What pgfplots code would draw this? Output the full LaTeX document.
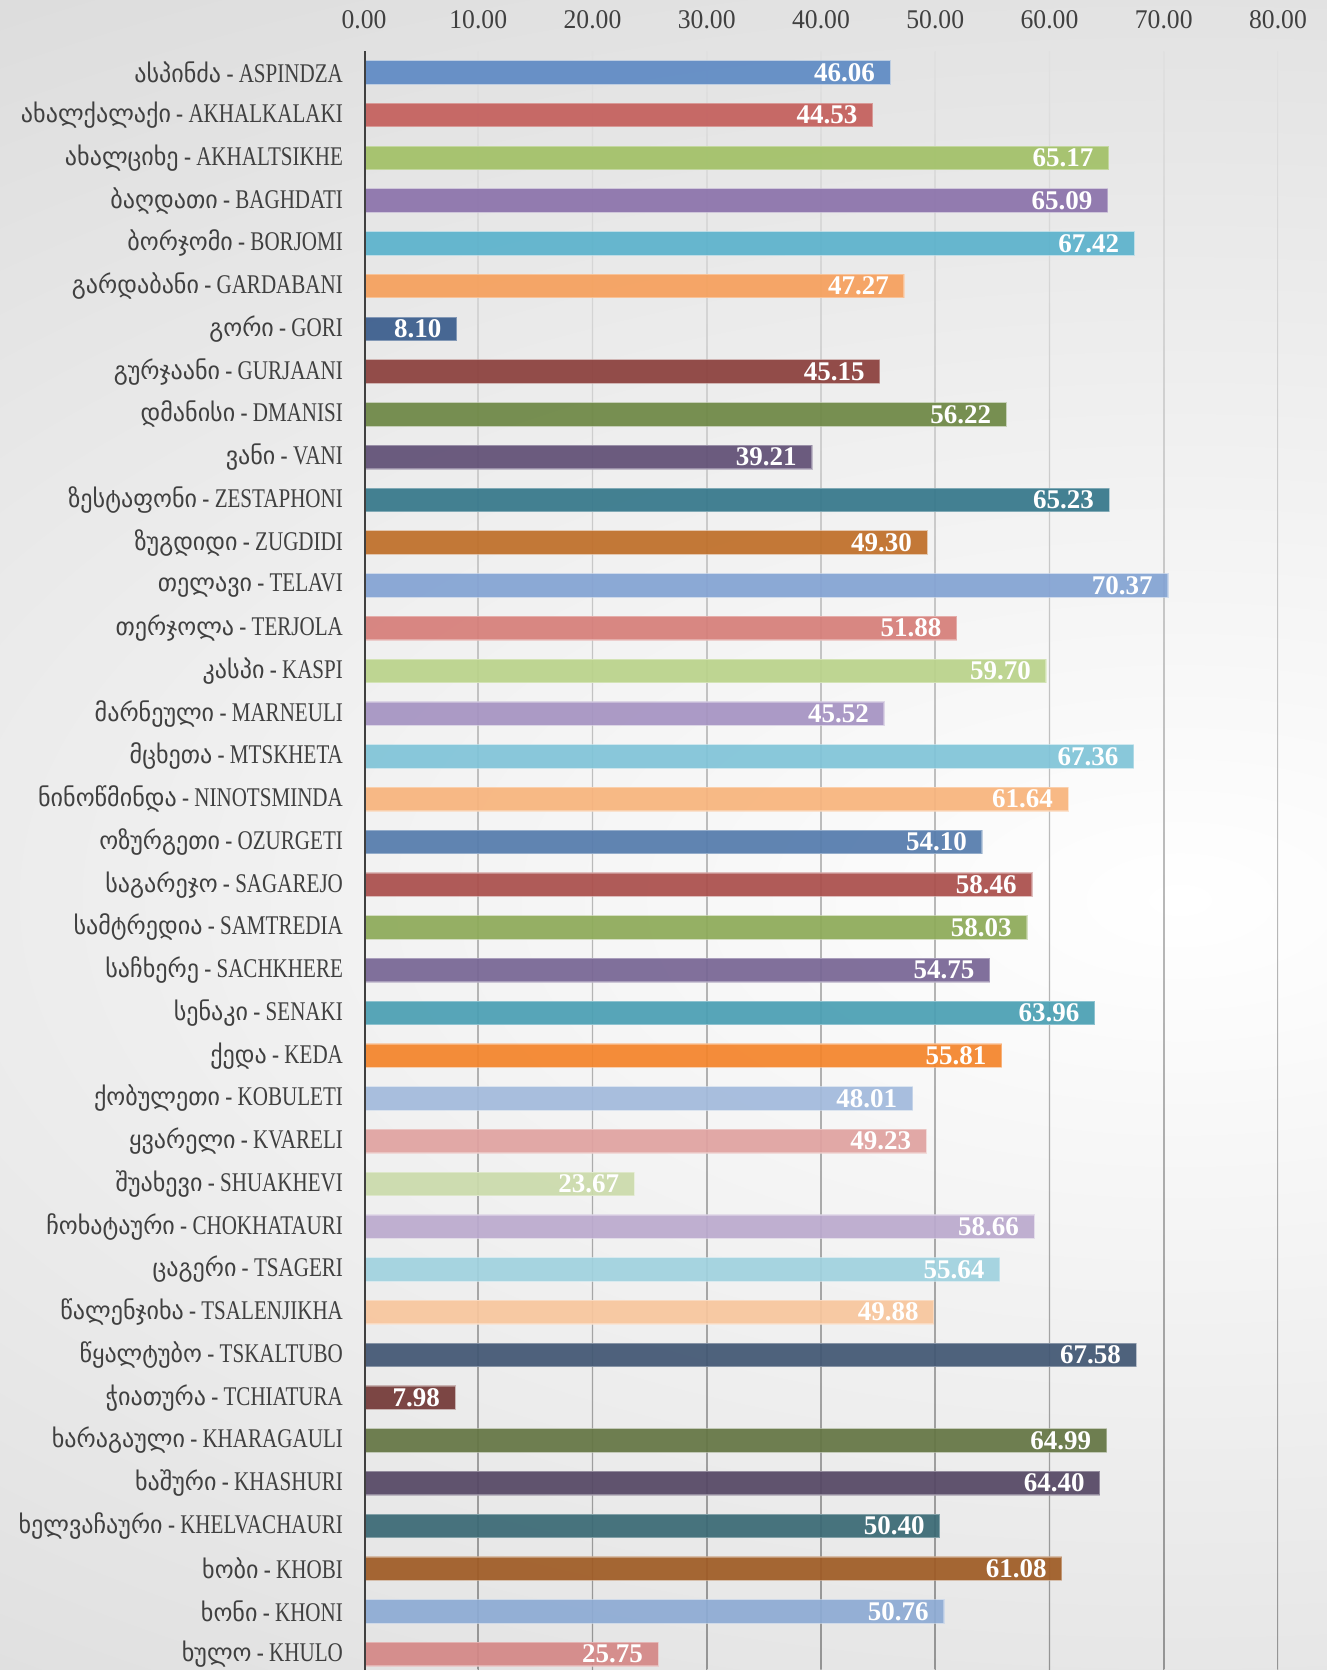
\documentclass[border=0pt]{standalone}
\usepackage{fontspec}
\setmainfont{Liberation Serif}[FakeStretch=0.78]
\newfontfamily\geo{DejaVu Sans}[FakeStretch=0.97, Scale=0.92]
\newfontfamily\numfont{Liberation Serif}[FakeStretch=0.95]
\newfontfamily\valfont{Liberation Serif}[FakeStretch=1.0]
\usepackage{pgfplots}
\pgfplotsset{compat=1.18}

\definecolor{lbl}{HTML}{404040}
\definecolor{c1}{HTML}{5E8AC4}
\definecolor{c2}{HTML}{C45F5C}
\definecolor{c3}{HTML}{A2C167}
\definecolor{c4}{HTML}{8B72AB}
\definecolor{c5}{HTML}{5BB2CC}
\definecolor{c6}{HTML}{F6A05C}
\definecolor{c7}{HTML}{3A5C8C}
\definecolor{c8}{HTML}{8B3F3C}
\definecolor{c9}{HTML}{6D8744}
\definecolor{c10}{HTML}{604F75}
\definecolor{c11}{HTML}{35778A}
\definecolor{c12}{HTML}{BF6E28}
\definecolor{c13}{HTML}{83A3D3}
\definecolor{c14}{HTML}{D67E79}
\definecolor{c15}{HTML}{BAD38A}
\definecolor{c16}{HTML}{A593C2}
\definecolor{c17}{HTML}{80C4D8}
\definecolor{c18}{HTML}{F8B47C}
\definecolor{c19}{HTML}{547BAC}
\definecolor{c20}{HTML}{AA4E4B}
\definecolor{c21}{HTML}{8DAA58}
\definecolor{c22}{HTML}{776594}
\definecolor{c23}{HTML}{4A9FB3}
\definecolor{c24}{HTML}{F4842A}
\definecolor{c25}{HTML}{A2BADC}
\definecolor{c26}{HTML}{E0A2A0}
\definecolor{c27}{HTML}{CBDBAB}
\definecolor{c28}{HTML}{BBAACE}
\definecolor{c29}{HTML}{A0D2DF}
\definecolor{c30}{HTML}{F8C69D}
\definecolor{c31}{HTML}{415673}
\definecolor{c32}{HTML}{733836}
\definecolor{c33}{HTML}{647543}
\definecolor{c34}{HTML}{554764}
\definecolor{c35}{HTML}{3A6974}
\definecolor{c36}{HTML}{9F5B24}
\definecolor{c37}{HTML}{8DABD4}
\definecolor{c38}{HTML}{D48786}

\newcommand\gl[2]{{\geo #1} - #2}

\begin{document}
\begin{tikzpicture}
\useasboundingbox (0,0) rectangle (663.5pt,835pt);
\begin{scope}
  \clip (0,0) rectangle (663.5pt,835pt);
  \shade[inner color=white, outer color=black!20] (590pt,385pt) ellipse [x radius=1600pt, y radius=800pt];
\end{scope}
\begin{axis}[
  at={(182pt,0pt)}, anchor=south west,
  scale only axis, width=457pt, height=809.5pt,
  xbar, bar width=0.55, bar shift=0pt,
  xmin=0, xmax=80, ymin=-0.5, ymax=37.37, y dir=reverse,
  axis line style={draw=none},
  major tick length=0pt,
  /pgf/number format/assume math mode=true,
  xtick={0,10,...,80}, xticklabel pos=upper,
  tick label style={font=\fontsize{13.5}{16}\selectfont, text=lbl},
  xticklabel style={/pgf/number format/.cd, fixed, fixed zerofill, precision=2, /tikz/.cd,
    anchor=base, yshift=11.25pt, font=\fontsize{13.5}{16}\numfont},
  ytick={0,...,37},
  yticklabel style={anchor=east, xshift=-7pt},
  yticklabels={
    \gl{ასპინძა}{ASPINDZA},
    \gl{ახალქალაქი}{AKHALKALAKI},
    \gl{ახალციხე}{AKHALTSIKHE},
    \gl{ბაღდათი}{BAGHDATI},
    \gl{ბორჯომი}{BORJOMI},
    \gl{გარდაბანი}{GARDABANI},
    \gl{გორი}{GORI},
    \gl{გურჯაანი}{GURJAANI},
    \gl{დმანისი}{DMANISI},
    \gl{ვანი}{VANI},
    \gl{ზესტაფონი}{ZESTAPHONI},
    \gl{ზუგდიდი}{ZUGDIDI},
    \gl{თელავი}{TELAVI},
    \gl{თერჯოლა}{TERJOLA},
    \gl{კასპი}{KASPI},
    \gl{მარნეული}{MARNEULI},
    \gl{მცხეთა}{MTSKHETA},
    \gl{ნინოწმინდა}{NINOTSMINDA},
    \gl{ოზურგეთი}{OZURGETI},
    \gl{საგარეჯო}{SAGAREJO},
    \gl{სამტრედია}{SAMTREDIA},
    \gl{საჩხერე}{SACHKHERE},
    \gl{სენაკი}{SENAKI},
    \gl{ქედა}{KEDA},
    \gl{ქობულეთი}{KOBULETI},
    \gl{ყვარელი}{KVARELI},
    \gl{შუახევი}{SHUAKHEVI},
    \gl{ჩოხატაური}{CHOKHATAURI},
    \gl{ცაგერი}{TSAGERI},
    \gl{წალენჯიხა}{TSALENJIKHA},
    \gl{წყალტუბო}{TSKALTUBO},
    \gl{ჭიათურა}{TCHIATURA},
    \gl{ხარაგაული}{KHARAGAULI},
    \gl{ხაშური}{KHASHURI},
    \gl{ხელვაჩაური}{KHELVACHAURI},
    \gl{ხობი}{KHOBI},
    \gl{ხონი}{KHONI},
    \gl{ხულო}{KHULO}},
  point meta=x,
  nodes near coords={\pgfmathprintnumber[fixed,fixed zerofill,precision=2]{\pgfplotspointmeta}},
  nodes near coords style={anchor=east, xshift=-4pt, text=white, text opacity=1,
    font=\fontsize{13.5}{16}\valfont\bfseries},
  every axis plot/.append style={fill opacity=0.92, draw opacity=0.7, line width=0.6pt},
]
\pgfplotsinvokeforeach{10,20,30,40,50,60,70,80}{
  \shade[top color=black!12, bottom color=black!42]
    ([xshift=-0.35pt]axis cs:#1,-0.5) rectangle ([xshift=0.35pt]axis cs:#1,37.37);
}
\addplot[fill=c1, draw=c1!50!white] coordinates {(46.06,0)};
\addplot[fill=c2, draw=c2!50!white] coordinates {(44.53,1)};
\addplot[fill=c3, draw=c3!50!white] coordinates {(65.17,2)};
\addplot[fill=c4, draw=c4!50!white] coordinates {(65.09,3)};
\addplot[fill=c5, draw=c5!50!white] coordinates {(67.42,4)};
\addplot[fill=c6, draw=c6!50!white] coordinates {(47.27,5)};
\addplot[fill=c7, draw=c7!50!white] coordinates {(8.10,6)};
\addplot[fill=c8, draw=c8!50!white] coordinates {(45.15,7)};
\addplot[fill=c9, draw=c9!50!white] coordinates {(56.22,8)};
\addplot[fill=c10, draw=c10!50!white] coordinates {(39.21,9)};
\addplot[fill=c11, draw=c11!50!white] coordinates {(65.23,10)};
\addplot[fill=c12, draw=c12!50!white] coordinates {(49.30,11)};
\addplot[fill=c13, draw=c13!50!white] coordinates {(70.37,12)};
\addplot[fill=c14, draw=c14!50!white] coordinates {(51.88,13)};
\addplot[fill=c15, draw=c15!50!white] coordinates {(59.70,14)};
\addplot[fill=c16, draw=c16!50!white] coordinates {(45.52,15)};
\addplot[fill=c17, draw=c17!50!white] coordinates {(67.36,16)};
\addplot[fill=c18, draw=c18!50!white] coordinates {(61.64,17)};
\addplot[fill=c19, draw=c19!50!white] coordinates {(54.10,18)};
\addplot[fill=c20, draw=c20!50!white] coordinates {(58.46,19)};
\addplot[fill=c21, draw=c21!50!white] coordinates {(58.03,20)};
\addplot[fill=c22, draw=c22!50!white] coordinates {(54.75,21)};
\addplot[fill=c23, draw=c23!50!white] coordinates {(63.96,22)};
\addplot[fill=c24, draw=c24!50!white] coordinates {(55.81,23)};
\addplot[fill=c25, draw=c25!50!white] coordinates {(48.01,24)};
\addplot[fill=c26, draw=c26!50!white] coordinates {(49.23,25)};
\addplot[fill=c27, draw=c27!50!white] coordinates {(23.67,26)};
\addplot[fill=c28, draw=c28!50!white] coordinates {(58.66,27)};
\addplot[fill=c29, draw=c29!50!white] coordinates {(55.64,28)};
\addplot[fill=c30, draw=c30!50!white] coordinates {(49.88,29)};
\addplot[fill=c31, draw=c31!50!white] coordinates {(67.58,30)};
\addplot[fill=c32, draw=c32!50!white] coordinates {(7.98,31)};
\addplot[fill=c33, draw=c33!50!white] coordinates {(64.99,32)};
\addplot[fill=c34, draw=c34!50!white] coordinates {(64.40,33)};
\addplot[fill=c35, draw=c35!50!white] coordinates {(50.40,34)};
\addplot[fill=c36, draw=c36!50!white] coordinates {(61.08,35)};
\addplot[fill=c37, draw=c37!50!white] coordinates {(50.76,36)};
\addplot[fill=c38, draw=c38!50!white] coordinates {(25.75,37)};
\draw[line width=1.75pt, draw=lbl] (axis cs:0,-0.5) -- (axis cs:0,37.37);
\end{axis}
\end{tikzpicture}
\end{document}
